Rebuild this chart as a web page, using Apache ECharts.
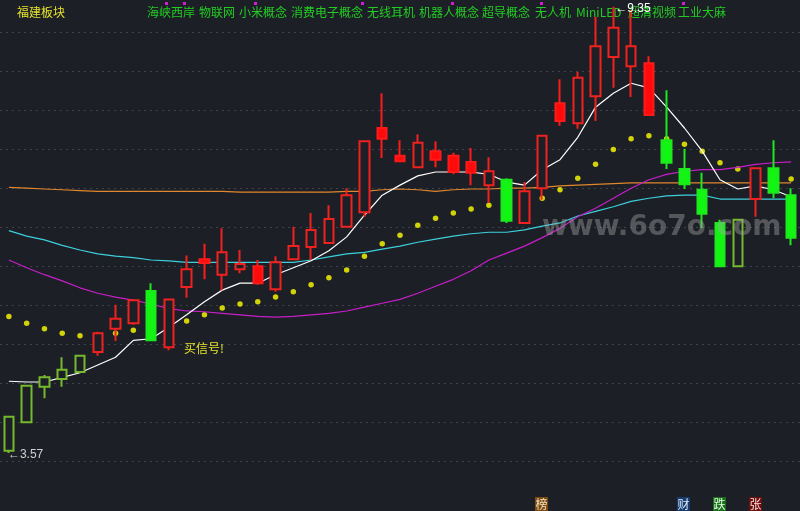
<!DOCTYPE html>
<html><head><meta charset="utf-8">
<script src="https://cdn.jsdelivr.net/npm/echarts@6/dist/echarts.min.js"></script>
<style>html,body{margin:0;padding:0;background:#1c1f26;}#c{width:800px;height:511px;}</style>
</head><body><div id="c"></div>
<script>
const categories = ['1','2','3','4','5','6','7','8','9','10','11','12','13','14','15','16','17','18','19','20','21','22','23','24','25','26','27','28','29','30','31','32','33','34','35','36','37','38','39','40','41','42','43','44','45'];
// [open, close, low, high]
const ohlc = [
 [3.60,4.04,3.57,4.04],[3.97,4.44,3.96,4.45],[4.43,4.55,4.28,4.58],[4.53,4.65,4.43,4.81],[4.62,4.83,4.62,4.83],
 [4.88,5.12,4.83,5.14],[5.18,5.31,5.02,5.49],[5.25,5.55,5.23,5.56],[5.67,5.03,5.03,5.77],[4.94,5.56,4.90,5.56],
 [5.72,5.95,5.58,6.13],[6.08,6.03,5.82,6.28],[5.88,6.17,5.68,6.48],[5.95,6.02,5.90,6.20],[5.99,5.77,5.75,6.07],
 [5.69,6.04,5.66,6.12],[6.08,6.25,6.07,6.50],[6.24,6.46,6.07,6.68],[6.29,6.60,6.29,6.78],[6.50,6.91,6.50,7.00],
 [6.69,7.61,6.63,7.61],[7.78,7.64,7.39,8.23],[7.42,7.35,7.35,7.62],[7.27,7.59,7.27,7.70],[7.48,7.37,7.27,7.61],
 [7.42,7.21,7.18,7.46],[7.34,7.20,7.04,7.52],[7.04,7.22,6.81,7.40],[7.11,6.58,6.55,7.13],[6.55,6.96,6.54,7.08],
 [7.00,7.68,6.85,7.68],[8.10,7.87,7.81,8.41],[7.84,8.43,7.77,8.51],[8.19,8.84,7.87,9.22],[8.70,9.08,8.30,9.35],
 [8.58,8.84,8.18,9.31],[8.62,7.95,7.95,8.71],[7.62,7.33,7.25,8.27],[7.25,7.05,6.99,7.51],[6.98,6.67,6.48,7.20],
 [6.55,5.99,5.99,6.59],[5.99,6.59,5.99,6.59],[6.86,7.26,6.63,7.26],[7.26,6.94,6.87,7.62],[6.91,6.36,6.26,7.00]
];
// candle kind: hr hollow red, fr filled red, fg filled green, hg hollow green
const candleKind = ['hg','hg','hg','hg','hg','hr','hr','hr','fg','hr','hr','fr','hr','hr','fr','hr','hr','hr','hr','hr','hr','fr','fr','hr','fr','fr','fr','hr','fg','hr','hr','fr','hr','hr','hr','hr','fr','fg','fg','fg','fg','hg','hr','fg','fg'];
const maWhite = [4.50,4.49,4.49,4.55,4.61,4.71,4.81,5.03,5.05,5.20,5.36,5.53,5.68,5.77,5.77,5.88,5.97,6.06,6.19,6.37,6.65,6.91,7.04,7.16,7.21,7.21,7.21,7.18,7.08,7.04,7.24,7.37,7.66,8.05,8.23,8.36,8.30,8.05,7.78,7.48,7.11,6.99,7.03,6.98,6.89];
const maOrange = [7.01,7.00,6.99,6.98,6.97,6.96,6.96,6.96,6.96,6.96,6.96,6.96,6.96,6.95,6.95,6.95,6.95,6.95,6.95,6.96,6.96,6.98,6.99,6.98,6.96,6.98,6.99,6.99,7.00,7.00,7.01,7.03,7.04,7.05,7.06,7.07,7.07,7.07,7.07,7.07,7.07,7.07,7.07,7.07,7.07];
const maCyan = [6.45,6.38,6.33,6.26,6.20,6.15,6.12,6.10,6.07,6.06,6.04,6.04,6.04,6.04,6.04,6.04,6.04,6.07,6.11,6.15,6.17,6.21,6.25,6.30,6.34,6.38,6.41,6.43,6.43,6.46,6.51,6.55,6.64,6.70,6.76,6.83,6.87,6.90,6.91,6.91,6.86,6.86,6.86,6.86,6.86];
const maMagenta = [6.07,5.97,5.88,5.80,5.71,5.64,5.59,5.55,5.50,5.44,5.41,5.40,5.38,5.36,5.34,5.33,5.34,5.36,5.38,5.41,5.46,5.51,5.56,5.64,5.73,5.82,5.93,6.07,6.16,6.25,6.36,6.48,6.63,6.74,6.87,7.00,7.11,7.18,7.22,7.24,7.24,7.27,7.31,7.33,7.34];
const sarDots = [5.34,5.25,5.18,5.12,5.09,5.09,5.12,5.16,5.22,5.24,5.28,5.36,5.45,5.50,5.53,5.59,5.66,5.75,5.84,5.94,6.12,6.28,6.39,6.52,6.61,6.68,6.73,6.78,6.81,6.83,6.87,6.98,7.13,7.31,7.50,7.64,7.68,7.64,7.57,7.48,7.33,7.25,7.17,7.15,7.12];
const sectorName = '福建板块';
const conceptTags = ['海峡西岸','物联网','小米概念','消费电子概念','无线耳机','机器人概念','超导概念','无人机','MiniLED','超清视频','工业大麻'];
const signalText = '买信号!';
const watermark = 'www.6o7o.com';
const badges = ['榜','财','跌','张'];

const BG = '#1c1f26';
const kindStyle = {
  hr: {color: BG, color0: BG, borderColor: '#f0221f', borderColor0: '#f0221f', borderWidth: 2},
  fr: {color: '#ff0a0a', color0: '#ff0a0a', borderColor: '#ff1a1a', borderColor0: '#ff1a1a', borderWidth: 2},
  fg: {color: '#12f512', color0: '#12f512', borderColor: '#1ee81e', borderColor0: '#1ee81e', borderWidth: 2},
  hg: {color: BG, color0: BG, borderColor: '#74ba2c', borderColor0: '#74ba2c', borderWidth: 2}
};
const candleData = ohlc.map((v, i) => ({value: v, itemStyle: kindStyle[candleKind[i]]}));

const chart = echarts.init(document.getElementById('c'), null, {renderer: 'canvas'});
const lineS = (data, color) => ({type: 'line', data, symbol: 'none', clip: false, z: 2, silent: true,
  lineStyle: {color, width: 1.2}});
chart.setOption({
  backgroundColor: BG,
  animation: false,
  grid: {left: -2, width: 802, top: 32, height: 429},
  xAxis: {type: 'category', data: categories, show: false, boundaryGap: true},
  yAxis: [
    {type: 'value', min: 3.4667, max: 9.0235, show: false},
    {type: 'value', min: 0, max: 11, interval: 1, axisLine: {show: false}, axisTick: {show: false},
     axisLabel: {show: false}, splitLine: {show: true, lineStyle: {color: '#3e434d', type: [2, 4], width: 1}}}
  ],
  series: [
    {type: 'scatter', data: sarDots, symbolSize: 5.5, z: 1, clip: false, itemStyle: {color: '#ffff00'}},
    lineS(maOrange, '#e0862c'),
    lineS(maCyan, '#3cd0dc'),
    lineS(maMagenta, '#c81ec8'),
    lineS(maWhite, '#ffffff'),
    {type: 'candlestick', data: candleData, barWidth: 10, clip: false, z: 3}
  ]
});

// label positions tied to the data
let lowIdx = 0, highIdx = 0;
ohlc.forEach((v, i) => { if (v[2] < ohlc[lowIdx][2]) lowIdx = i; if (v[3] > ohlc[highIdx][3]) highIdx = i; });
const lowPt = chart.convertToPixel({gridIndex: 0}, [lowIdx, ohlc[lowIdx][2]]);
const highPt = chart.convertToPixel({gridIndex: 0}, [highIdx, ohlc[highIdx][3]]);

const g = [];
g.push({type: 'text', left: 17, top: 6, style: {text: sectorName, fill: '#e6e32a', font: '12px "Noto Sans CJK SC"'}});
const tagX = [147, 199, 239, 291, 367, 419, 482, 535, 576, 628, 678];
conceptTags.forEach((t, i) => g.push({type: 'text', left: tagX[i], top: 6, style: {text: t, fill: '#22cc22', font: '12px "Noto Sans CJK SC"'}}));
[165, 183, 254, 361, 451, 540, 682].forEach(x => g.push({type: 'rect', shape: {x: x, y: 2, width: 3, height: 3}, style: {fill: '#d21ed2'}}));
g.push({type: 'text', x: lowPt[0] - 1, y: lowPt[1] + 2, style: {text: '←' + ohlc[lowIdx][2].toFixed(2), fill: '#d0d0d0', font: '12px "Liberation Sans"', textVerticalAlign: 'middle'}});
g.push({type: 'text', x: highPt[0] + 2, y: highPt[1] + 2, z: 10, style: {text: '←' + ohlc[highIdx][3].toFixed(2), fill: '#ffffff', font: '12px "Liberation Sans"', textVerticalAlign: 'middle'}});
g.push({type: 'text', left: 184, top: 342, style: {text: signalText, fill: '#e6e32a', font: '12px "Noto Sans CJK SC"'}});
g.push({type: 'text', left: 542, top: 214, z: 20, style: {text: watermark, fill: 'rgba(165,165,165,0.42)', font: 'bold 28px "DejaVu Sans"'}});
const badgeX = [535, 677, 713, 749];
const badgeBg = ['#7b4a12', '#163a6a', '#1a6e1a', '#6a0e0e'];
const badgeFg = ['#f4e2c0', '#d8e8ff', '#e0ffe0', '#ffe0e0'];
badges.forEach((b, i) => {
  g.push({type: 'rect', shape: {x: badgeX[i], y: 497, width: 13, height: 14}, style: {fill: badgeBg[i]}});
  g.push({type: 'text', x: badgeX[i] + 6.5, y: 504, style: {text: b, fill: badgeFg[i], font: '12px "Noto Sans CJK SC"', textAlign: 'center', textVerticalAlign: 'middle'}});
});
chart.setOption({graphic: g});
</script></body></html>
